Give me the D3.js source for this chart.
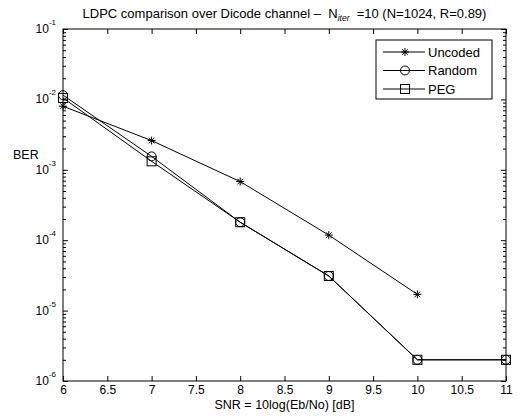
<!DOCTYPE html>
<html>
<head>
<meta charset="utf-8">
<script src="https://cdn.jsdelivr.net/npm/d3@7"></script>
<style>
  body { margin: 0; background: #fff; }
  svg text { font-family: "Liberation Sans", Arial, sans-serif; fill: #000; white-space: pre; }
</style>
</head>
<body>
<script>
var w = 521;
var h = 416;
var margin = {top: 29, right: 15, bottom: 35, left: 63};

// data
const snr = [6, 7, 8, 9, 10, 11];
const uncoded = [8.0e-3, 2.6e-3, 6.8e-4, 1.18e-4, 1.7e-5];
const random = [1.15e-2, 1.55e-3, 1.8e-4, 3.1e-5, 2.0e-6, 2.0e-6];
const peg = [1.05e-2, 1.32e-3, 1.8e-4, 3.1e-5, 2.0e-6, 2.0e-6];
const xTicks = [6, 6.5, 7, 7.5, 8, 8.5, 9, 9.5, 10, 10.5, 11];
const yExps = [-1, -2, -3, -4, -5, -6];
const seriesNames = ["Uncoded", "Random", "PEG"];

const series = [
    {name: seriesNames[0], values: uncoded, marker: "star"},
    {name: seriesNames[1], values: random, marker: "circle"},
    {name: seriesNames[2], values: peg, marker: "square"}
];

const xScale = d3.scaleLinear()
    .domain([6, 11])
    .range([margin.left, w - margin.right]);

const yScale = d3.scaleLog()
    .domain([1e-6, 1e-1])
    .range([h - margin.bottom, margin.top]);

const svg = d3.select("body")
    .append("svg")
    .attr("width", w)
    .attr("height", h);

const x0 = xScale.range()[0], x1 = xScale.range()[1];
const y0 = yScale.range()[0], y1 = yScale.range()[1];

// minor ticks on log axis
const minor = [];
yExps.forEach(e => {
    if (e === -1) return;
    for (let k = 2; k <= 9; k++) minor.push(k * Math.pow(10, e));
});

// axes, ticks pointing inward like matlab
const tickLen = 5;
svg.append("g")
    .attr("transform", `translate(0, ${y0})`)
    .call(d3.axisBottom(xScale).tickValues(xTicks).tickSize(-tickLen).tickPadding(4).tickFormat(d3.format("")))
    .call(g => g.select(".domain").remove());
svg.append("g")
    .attr("transform", `translate(0, ${y1})`)
    .call(d3.axisTop(xScale).tickValues(xTicks).tickSize(-tickLen).tickFormat(""))
    .call(g => g.select(".domain").remove());

svg.append("g")
    .attr("transform", `translate(${x0}, 0)`)
    .call(d3.axisLeft(yScale).tickValues(yExps.map(e => Math.pow(10, e))).tickSize(-tickLen).tickFormat(""))
    .call(g => g.select(".domain").remove());
svg.append("g")
    .attr("transform", `translate(${x0}, 0)`)
    .call(d3.axisLeft(yScale).tickValues(minor).tickSize(-3).tickFormat(""))
    .call(g => g.select(".domain").remove());
svg.append("g")
    .attr("transform", `translate(${x1}, 0)`)
    .call(d3.axisRight(yScale).tickValues(yExps.map(e => Math.pow(10, e))).tickSize(-tickLen).tickFormat(""))
    .call(g => g.select(".domain").remove());
svg.append("g")
    .attr("transform", `translate(${x1}, 0)`)
    .call(d3.axisRight(yScale).tickValues(minor).tickSize(-3).tickFormat(""))
    .call(g => g.select(".domain").remove());

svg.selectAll(".tick line").attr("stroke", "#000").attr("stroke-width", 1);
svg.selectAll(".tick text").attr("font-size", 12).attr("fill", "#000")
    .attr("font-family", "Liberation Sans, Arial, sans-serif");

// y tick labels: 10 with superscript exponent
yExps.forEach(e => {
    const t = svg.append("text")
        .attr("x", x0 - 7)
        .attr("y", yScale(Math.pow(10, e)) + 4)
        .attr("text-anchor", "end")
        .attr("font-size", 12);
    t.append("tspan").text("10");
    t.append("tspan").attr("dy", -8).attr("font-size", 8).text(e);
});

// plot frame
svg.append("rect")
    .attr("x", x0).attr("y", y1)
    .attr("width", x1 - x0).attr("height", y0 - y1)
    .attr("fill", "none").attr("stroke", "#000").attr("stroke-width", 1);

// lines
const line = d3.line()
    .x((d, i) => xScale(snr[i]))
    .y(d => yScale(d));

svg.selectAll(".series")
    .data(series)
    .enter()
    .append("path")
    .attr("class", "series")
    .attr("d", d => line(d.values))
    .attr("fill", "none")
    .attr("stroke", "#000")
    .attr("stroke-width", 1);

function drawMarker(g, type, cx, cy) {
    if (type === "star") {
        const r = 4;
        g.append("path")
            .attr("d", `M${cx - r},${cy}H${cx + r}M${cx},${cy - r}V${cy + r}` +
                `M${cx - r * 0.7},${cy - r * 0.7}L${cx + r * 0.7},${cy + r * 0.7}` +
                `M${cx - r * 0.7},${cy + r * 0.7}L${cx + r * 0.7},${cy - r * 0.7}`)
            .attr("stroke", "#000").attr("stroke-width", 1).attr("fill", "none");
    } else if (type === "circle") {
        g.append("circle")
            .attr("cx", cx).attr("cy", cy).attr("r", 4.5)
            .attr("fill", "none").attr("stroke", "#000").attr("stroke-width", 1);
    } else {
        g.append("rect")
            .attr("x", cx - 4.5).attr("y", cy - 4.5)
            .attr("width", 9).attr("height", 9)
            .attr("fill", "none").attr("stroke", "#000").attr("stroke-width", 1);
    }
}

const markers = svg.append("g");
series.forEach(s => {
    s.values.forEach((v, i) => drawMarker(markers, s.marker, xScale(snr[i]), yScale(v)));
});

// legend
const lg = svg.append("g").attr("transform", "translate(376, 40)");
lg.append("rect")
    .attr("width", 116).attr("height", 59)
    .attr("fill", "#fff").attr("stroke", "#000").attr("stroke-width", 1);
series.forEach((s, i) => {
    const yy = 12 + i * 18.5;
    lg.append("line")
        .attr("x1", 7).attr("x2", 49)
        .attr("y1", yy).attr("y2", yy)
        .attr("stroke", "#000").attr("stroke-width", 1);
    drawMarker(lg, s.marker, 29, yy);
    lg.append("text")
        .attr("x", 52).attr("y", yy + 4.5)
        .attr("font-size", 13)
        .text(s.name);
});

// title
const title = svg.append("text")
    .attr("x", (x0 + x1) / 2)
    .attr("y", 18)
    .attr("text-anchor", "middle")
    .attr("font-size", 13);
title.append("tspan").text("LDPC comparison over Dicode channel \u2013  N");
title.append("tspan").attr("dy", 3).attr("font-size", 8.5).attr("font-style", "italic").text("iter");
title.append("tspan").attr("dy", -3).text("  =10 (N=1024, R=0.89)");

// axis labels
svg.append("text")
    .attr("x", (x0 + x1) / 2)
    .attr("y", 409)
    .attr("text-anchor", "middle")
    .attr("font-size", 12.5)
    .text("SNR = 10log(Eb/No) [dB]");

svg.append("text")
    .attr("x", 13)
    .attr("y", 159)
    .attr("font-size", 12.5)
    .text("BER");
</script>
</body>
</html>
